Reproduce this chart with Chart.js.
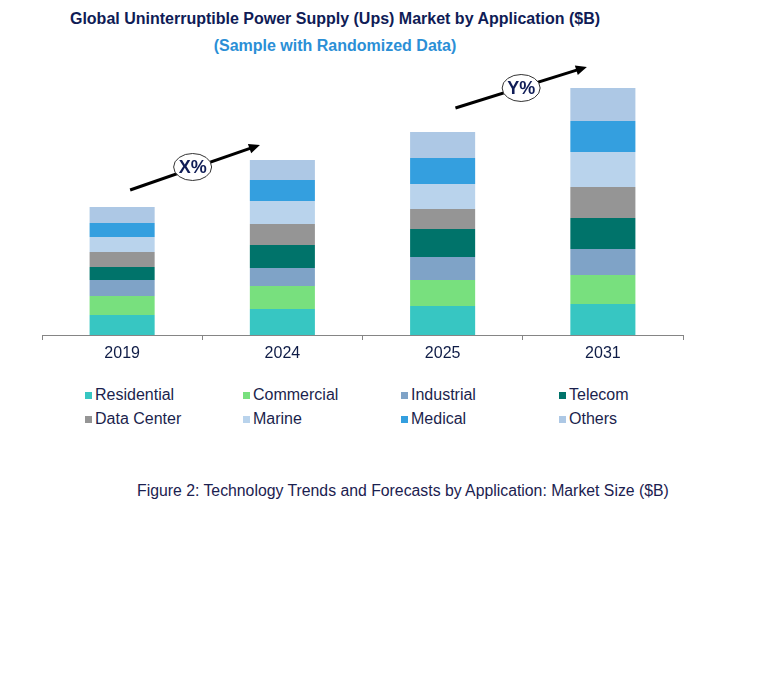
<!DOCTYPE html>
<html>
<head>
<meta charset="utf-8">
<script src="https://cdn.jsdelivr.net/npm/chart.js@4"></script>
<style>
  html, body { margin: 0; padding: 0; background: #fff; }
  #wrap { position: relative; width: 764px; height: 680px; font-family: "Liberation Sans", Arial, sans-serif; }
  .title { position: absolute; left: 0; width: 670px; text-align: center; font-weight: bold; font-size: 16px; white-space: nowrap; }
  #t1 { top: 10px; color: #0f1c56; }
  #t2 { top: 37px; color: #2b8fd6; }
  #chartBox { position: absolute; left: 0; top: 0; width: 764px; height: 370px; }
  .lg { position: absolute; font-size: 16px; color: #1b1f4d; white-space: nowrap; line-height: 20px; }
  .lg i { display: inline-block; width: 7px; height: 7px; margin-right: 3px; vertical-align: 1px; }
  #cap { position: absolute; left: 137px; top: 482px; font-size: 15.8px; color: #1b2150; white-space: nowrap; }
</style>
</head>
<body>
<div id="wrap">
  <div class="title" id="t1">Global Uninterruptible Power Supply (Ups) Market by Application ($B)</div>
  <div class="title" id="t2">(Sample with Randomized Data)</div>
  <div id="chartBox"><canvas id="c" width="764" height="370"></canvas></div>
  <div id="legend"></div>
  <div id="cap">Figure 2: Technology Trends and Forecasts by Application: Market Size ($B)</div>
</div>
<script>
// ---- data ----
const categories = ['2019', '2024', '2025', '2031'];
const seriesNames = ['Residential', 'Commercial', 'Industrial', 'Telecom', 'Data Center', 'Marine', 'Medical', 'Others'];
const residential = [2.0, 2.6, 2.9, 3.1];
const commercial  = [1.9, 2.3, 2.6, 2.9];
const industrial  = [1.6, 1.8, 2.3, 2.6];
const telecom     = [1.3, 2.3, 2.8, 3.1];
const dataCenter  = [1.5, 2.1, 2.0, 3.1];
const marine      = [1.5, 2.3, 2.5, 3.5];
const medical     = [1.4, 2.1, 2.6, 3.1];
const others      = [1.6, 2.0, 2.6, 3.3];
const growthLabels = ['X%', 'Y%'];
const arrowFrom = [[0.05, 14.5], [2.08, 22.7]];
const arrowTo   = [[0.86, 19.0], [2.90, 26.8]];
const labelAt   = [[0.44, 16.8], [2.49, 24.7]];

const seriesValues = [residential, commercial, industrial, telecom, dataCenter, marine, medical, others];
const seriesColors = ['#37c6c2', '#78e07e', '#7fa3c7', '#00736a', '#959595', '#b9d3ec', '#349fdf', '#adc8e5'];

const datasets = seriesNames.map((n, i) => ({
  label: n,
  data: seriesValues[i],
  backgroundColor: seriesColors[i],
  borderWidth: 0,
  categoryPercentage: 1.0,
  barPercentage: 0.406
}));

const arrowPlugin = {
  id: 'growthArrows',
  afterDatasetsDraw(chart) {
    const ctx = chart.ctx, xs = chart.scales.x, ys = chart.scales.y;
    for (let k = 0; k < growthLabels.length; k++) {
      const x1 = xs.getPixelForValue(arrowFrom[k][0]), y1 = ys.getPixelForValue(arrowFrom[k][1]);
      const x2 = xs.getPixelForValue(arrowTo[k][0]),   y2 = ys.getPixelForValue(arrowTo[k][1]);
      const ang = Math.atan2(y2 - y1, x2 - x1);
      const hl = 11, hw = 5;
      ctx.save();
      ctx.strokeStyle = '#000'; ctx.fillStyle = '#000'; ctx.lineWidth = 3; ctx.lineCap = 'butt';
      ctx.beginPath();
      ctx.moveTo(x1, y1);
      ctx.lineTo(x2 - (hl - 2) * Math.cos(ang), y2 - (hl - 2) * Math.sin(ang));
      ctx.stroke();
      ctx.beginPath();
      ctx.moveTo(x2, y2);
      ctx.lineTo(x2 - hl * Math.cos(ang) + hw * Math.sin(ang), y2 - hl * Math.sin(ang) - hw * Math.cos(ang));
      ctx.lineTo(x2 - hl * Math.cos(ang) - hw * Math.sin(ang), y2 - hl * Math.sin(ang) + hw * Math.cos(ang));
      ctx.closePath();
      ctx.fill();
      const cx = xs.getPixelForValue(labelAt[k][0]), cy = ys.getPixelForValue(labelAt[k][1]);
      ctx.beginPath();
      ctx.ellipse(cx, cy, 19, 13.5, 0, 0, Math.PI * 2);
      ctx.fillStyle = '#fff'; ctx.fill();
      ctx.lineWidth = 1; ctx.strokeStyle = '#333'; ctx.stroke();
      ctx.fillStyle = '#0f1c56';
      ctx.font = 'bold 18px "Liberation Sans", Arial, sans-serif';
      ctx.textAlign = 'center'; ctx.textBaseline = 'middle';
      ctx.fillText(growthLabels[k], cx, cy + 1);
      ctx.restore();
    }
  }
};

const chart = new Chart(document.getElementById('c'), {
  type: 'bar',
  data: { labels: categories, datasets },
  options: {
    responsive: false,
    animation: false,
    layout: { padding: { left: 42, right: 81, top: 35, bottom: 0 } },
    plugins: { legend: { display: false }, tooltip: { enabled: false }, title: { display: false } },
    scales: {
      x: {
        stacked: true,
        offset: true,
        grid: { display: true, drawOnChartArea: false, drawTicks: true, offset: true, tickLength: 5, color: '#858585', lineWidth: 1 },
        border: { display: true, color: '#858585', width: 1 },
        ticks: { color: '#0f1c46', font: { family: '"Liberation Sans", Arial, sans-serif', size: 16 }, padding: 4, maxRotation: 0 },
        afterFit(scale) { scale.height = 35; }
      },
      y: {
        stacked: true,
        display: false,
        min: 0,
        max: 30
      }
    }
  },
  plugins: [arrowPlugin]
});

// HTML legend built from the chart datasets
const lg = document.getElementById('legend');
chart.data.datasets.forEach((ds, i) => {
  const col = i % 4, row = Math.floor(i / 4);
  const d = document.createElement('div');
  d.className = 'lg';
  d.style.left = (85 + col * 158) + 'px';
  d.style.top = (385 + row * 24) + 'px';
  d.innerHTML = '<i style="background:' + ds.backgroundColor + '"></i>' + ds.label;
  lg.appendChild(d);
});
</script>
</body>
</html>
